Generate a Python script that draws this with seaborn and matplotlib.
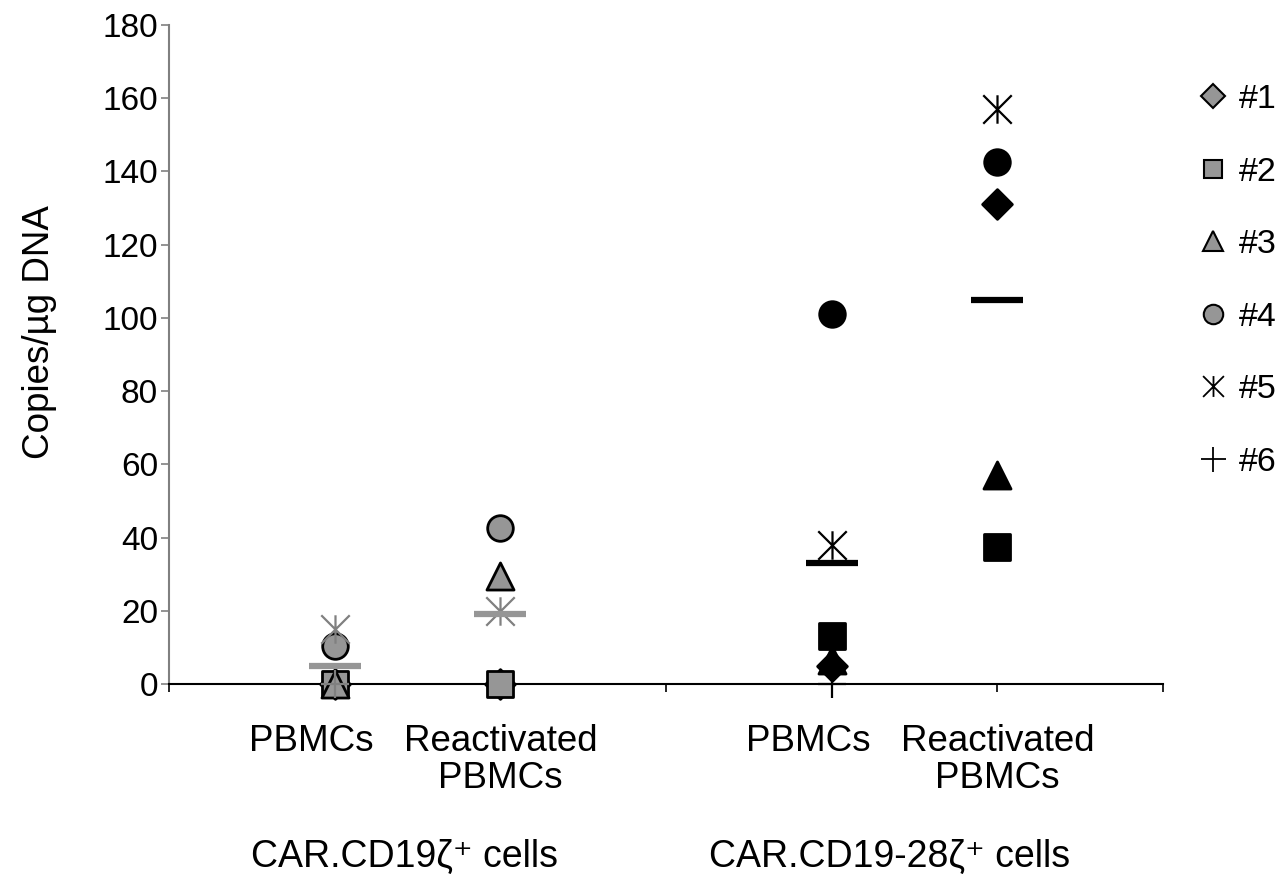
import numpy as np
import pandas as pd
import matplotlib
matplotlib.use("Agg")
import matplotlib.pyplot as plt
import seaborn as sns
from matplotlib.path import Path
from matplotlib.lines import Line2D

# Werte (Kopien/µg DNA), Reihenfolge Spender #1..#6
DONORS = ["#1", "#2", "#3", "#4", "#5", "#6"]
CONDITIONS = ["PBMCs", "Reactivated\nPBMCs"]
GROUPS = ["CAR.CD19ζ⁺ cells", "CAR.CD19-28ζ⁺ cells"]

cd19_pbmc = [0, 0, 0, 10.5, 15, 0]
cd19_react = [0, 0, 29.5, 42.5, 20, np.nan]
cd1928_pbmc = [5, 13, 6.5, 101, 38, 0]
cd1928_react = [131, 37.5, 57, 142.5, 157, np.nan]

cd19_mean = [5, 19]
cd1928_mean = [33, 105]

GRAY = "#969696"
LINEGRAY = "#808080"

# Excel-Stern: X mit senkrechtem Strich
star = Path([(-1, -1), (1, 1), (-1, 1), (1, -1), (0, -1), (0, 1)],
            [Path.MOVETO, Path.LINETO, Path.MOVETO, Path.LINETO, Path.MOVETO, Path.LINETO])
MARKERS = {"#1": "D", "#2": "s", "#3": "^", "#4": "o", "#5": star, "#6": "+"}
SIZES = {"#1": 230, "#2": 330, "#3": 380, "#4": 340, "#5": 420, "#6": 420}
LINE_MARKERS = {"#5", "#6"}

# x-Positionen der Kategorien auf der Achse 0..6
XPOS = {(0, 0): 1, (0, 1): 2, (1, 0): 4, (1, 1): 5}

rows = []
for g, series in enumerate([[cd19_pbmc, cd19_react], [cd1928_pbmc, cd1928_react]]):
    for c, vals in enumerate(series):
        for d, v in zip(DONORS, vals):
            rows.append({"group": g, "cond": c, "donor": d, "value": v, "x": XPOS[(g, c)]})
df = pd.DataFrame(rows).dropna()

means = pd.DataFrame({
    "group": [0, 0, 1, 1],
    "cond": [0, 1, 0, 1],
    "value": cd19_mean + cd1928_mean,
})
means["x"] = [XPOS[(g, c)] for g, c in zip(means["group"], means["cond"])]

sns.set_style("white")
plt.rcParams["font.family"] = ["Liberation Sans", "DejaVu Sans"]
plt.rcParams["text.color"] = "black"
plt.rcParams["axes.labelcolor"] = "black"

fig = plt.figure(figsize=(12.85, 8.74), dpi=100)
ax = fig.add_axes([169 / 1285, 1 - 684 / 874, (1163 - 169) / 1285, (684 - 25) / 874])

# Einzelwerte
for g in [0, 1]:
    fill = GRAY if g == 0 else "black"
    lcol = LINEGRAY if g == 0 else "black"
    for d in DONORS:
        sub = df[(df["group"] == g) & (df["donor"] == d)]
        if sub.empty:
            continue
        if d in LINE_MARKERS:
            sns.scatterplot(data=sub, x="x", y="value", marker=MARKERS[d], s=SIZES[d],
                            color=lcol, edgecolor=lcol, linewidth=1.6, ax=ax, zorder=4,
                            clip_on=False)
        else:
            sns.scatterplot(data=sub, x="x", y="value", marker=MARKERS[d], s=SIZES[d],
                            color=fill, edgecolor="black", linewidth=2, ax=ax,
                            zorder=3, clip_on=False)

# Mittelwert-Striche
for g in [0, 1]:
    sub = means[means["group"] == g]
    sns.scatterplot(data=sub, x="x", y="value", marker="_", s=1350,
                    color=GRAY if g == 0 else "black", linewidth=4.5, ax=ax, zorder=5)

ax.set_xlim(0, 6)
ax.set_ylim(0, 180)
ax.set_yticks(np.arange(0, 181, 20))
ax.set_xticks(np.arange(0, 7, 1))
ax.set_xticklabels([])
ax.tick_params(axis="y", direction="out", length=6, width=1.2, color=LINEGRAY,
               labelcolor="black", labelsize=24, pad=2, left=True)
ax.tick_params(axis="x", direction="out", length=6, width=1.2, color="black", bottom=True)
for s in ["top", "right"]:
    ax.spines[s].set_visible(False)
ax.spines["left"].set_color(LINEGRAY)
ax.spines["left"].set_linewidth(1.5)
ax.spines["bottom"].set_color("black")
ax.spines["bottom"].set_linewidth(1.5)
ax.set_xlabel("")
ax.set_ylabel("Copies/µg DNA", fontsize=26.5)
ax.yaxis.set_label_coords(-0.113, 0.534)

# Kategorie-Beschriftungen
tr = ax.get_xaxis_transform()
for g in [0, 1]:
    for c, lab in enumerate(CONDITIONS):
        xoff = -0.14 if c == 0 else 0.0
        ax.text(XPOS[(g, c)] + xoff, -0.06, lab, transform=tr, ha="center", va="top",
                fontsize=26.5, linespacing=1.1)
ax.text(1.42, -0.235, GROUPS[0], transform=tr, ha="center", va="top", fontsize=27)
ax.text(4.35, -0.235, GROUPS[1], transform=tr, ha="center", va="top", fontsize=27)

# Legende
handles = []
for d in DONORS:
    if d in LINE_MARKERS:
        h = Line2D([], [], linestyle="none", marker=MARKERS[d],
                   markersize=15 if d == "#5" else 18,
                   markeredgecolor="black", markeredgewidth=1.3, color="black")
    else:
        msize = {"#1": 12, "#2": 13, "#3": 15, "#4": 14}[d]
        h = Line2D([], [], linestyle="none", marker=MARKERS[d], markersize=msize,
                   markerfacecolor=GRAY, markeredgecolor="black", markeredgewidth=1.5)
    handles.append(h)
fig.legend(handles, DONORS, loc="upper left", bbox_to_anchor=(1200 / 1285, 1 - 84 / 874),
           frameon=False, fontsize=24.5, handlelength=0.75, handletextpad=0.4,
           labelspacing=1.22, borderpad=0, borderaxespad=0)

fig.savefig("out.png", dpi=100)
